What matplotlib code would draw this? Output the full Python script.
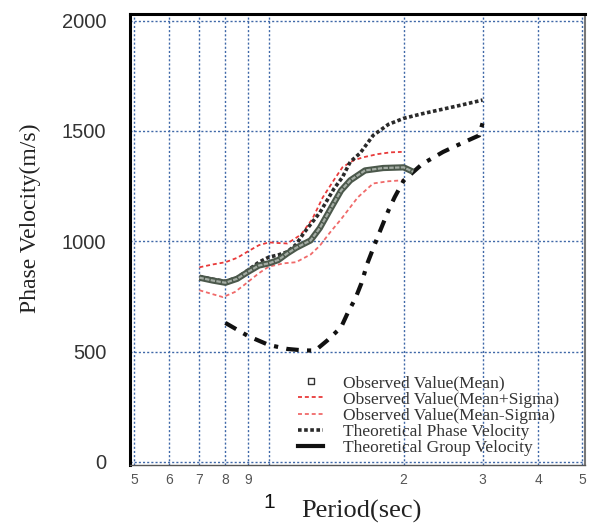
import matplotlib
matplotlib.use("Agg")
import matplotlib.pyplot as plt
from matplotlib.lines import Line2D
from matplotlib.ticker import FixedLocator

# Observed mean phase velocity
mean_period = [0.70, 0.75, 0.80, 0.85, 0.90, 0.95, 1.00, 1.05, 1.10, 1.15, 1.24,
               1.30, 1.38, 1.45, 1.52, 1.64, 1.80, 2.00, 2.10]
mean_vel = [835, 822, 812, 830, 862, 890, 900, 915, 945, 970, 1004,
            1060, 1154, 1230, 1276, 1321, 1332, 1335, 1315]

# Mean + sigma
plus_period = [0.70, 0.75, 0.80, 0.85, 0.90, 0.95, 1.00, 1.05, 1.10, 1.18, 1.25,
               1.32, 1.40, 1.46, 1.54, 1.62, 1.75, 1.87, 1.98]
plus_vel = [882, 895, 905, 925, 955, 982, 995, 992, 990, 1030, 1100,
            1199, 1280, 1335, 1365, 1380, 1395, 1403, 1405]

# Mean - sigma
minus_period = [0.70, 0.75, 0.79, 0.84, 0.88, 0.95, 1.00, 1.08, 1.15, 1.24, 1.30,
                1.37, 1.45, 1.58, 1.71, 1.85, 1.98]
minus_vel = [778, 760, 747, 770, 801, 855, 885, 900, 905, 940, 980,
             1040, 1100, 1199, 1262, 1272, 1276]

# Theoretical phase velocity
phase_period = [0.70, 0.75, 0.80, 0.85, 0.90, 0.95, 1.00, 1.05, 1.10, 1.15, 1.20,
                1.30, 1.40, 1.46, 1.52, 1.60, 1.71, 1.85, 2.00, 2.20, 2.40, 2.70, 3.00]
phase_vel = [840, 828, 818, 835, 870, 905, 928, 938, 952, 985, 1040,
             1130, 1240, 1290, 1360, 1400, 1480, 1530, 1557, 1578, 1595, 1618, 1640]

# Theoretical group velocity
group_period = [0.80, 0.90, 1.00, 1.10, 1.20, 1.27, 1.35, 1.45, 1.50, 1.56, 1.61,
                1.66, 1.75, 1.85, 1.91, 2.00, 2.20, 2.45, 2.70, 2.95, 3.00]
group_vel = [630, 570, 530, 512, 505, 505, 550, 610, 675, 740, 810,
             900, 1020, 1140, 1200, 1275, 1350, 1405, 1445, 1480, 1535]

y_ticks = [0, 500, 1000, 1500, 2000]
minor_x = [0.5, 0.6, 0.7, 0.8, 0.9, 2, 3, 4, 5]
minor_labels = ["5", "6", "7", "8", "9", "2", "3", "4", "5"]

serif = ["Liberation Serif", "DejaVu Serif"]
sans = ["Liberation Sans", "DejaVu Sans"]

fig = plt.figure(figsize=(5.89, 5.29), dpi=100)
ax = fig.add_axes([130 / 589, 1 - 465 / 529, 455 / 589, 451 / 529])

grid_color = "#3f68a8"
for xv in minor_x + [1]:
    ax.axvline(xv, color=grid_color, lw=1.0, ls=(0, (1.5, 1.5)), zorder=1)
for yv in y_ticks:
    ax.axhline(yv, color=grid_color, lw=1.0, ls=(0, (1.5, 1.5)), zorder=1)

ax.plot(plus_period, plus_vel, color="#e83a3a", lw=1.3, ls=(0, (2.2, 1.6)), zorder=3)
ax.plot(minus_period, minus_vel, color="#f06a6a", lw=1.3, ls=(0, (2.2, 1.6)), zorder=3)
ax.plot(phase_period, phase_vel, color="#2a2a2a", lw=2.6, ls=(0, (1, 0.7)), zorder=4)
ax.plot(mean_period, mean_vel, color="#4b584b", lw=4.5, solid_capstyle="butt", zorder=5)
ax.plot(mean_period, mean_vel, color="#a4aca4", lw=1.6, ls=(0, (2, 0.6)), zorder=6)
ax.plot(group_period, group_vel, color="#111111", lw=3, ls=(0, (3, 2, 1, 2)), zorder=4)

ax.set_xscale("log")
ax.set_xlim(0.49, 5.08)
ax.set_ylim(-14, 2030)

ax.xaxis.set_major_locator(FixedLocator([1]))
ax.set_xticklabels(["1"])
ax.set_xticks(minor_x, minor_labels, minor=True)
ax.tick_params(axis="x", which="major", length=0, pad=20, labelsize=15, labelcolor="#111111")
ax.tick_params(axis="x", which="minor", length=0, pad=6, labelsize=10, labelcolor="#555555")
for lab in ax.get_xticklabels(minor=True) + ax.get_xticklabels():
    lab.set_family(sans)

ax.set_yticks(y_ticks)
ax.tick_params(axis="y", length=0, pad=17, labelsize=14.5, labelcolor="#333333")
for lab in ax.get_yticklabels():
    lab.set_family(sans)

ax.set_xlabel("Period(sec)", family=serif, fontsize=19, color="#222222")
ax.xaxis.set_label_coords(0.508, -0.078)
ax.set_ylabel("Phase Velocity(m/s)", family=serif, fontsize=17, color="#222222")
ax.yaxis.set_label_coords(-0.196, 0.548)

ax.spines["left"].set_linewidth(2.2)
ax.spines["top"].set_linewidth(2.2)
ax.spines["right"].set_linewidth(1.5)
ax.spines["right"].set_color("#777777")
ax.spines["bottom"].set_linewidth(1.0)
ax.spines["bottom"].set_color("#555555")

handles = [
    Line2D([], [], ls="none", marker="s", ms=5, mfc="white", mec="#333333", mew=1),
    Line2D([], [], color="#e83a3a", lw=1.3, ls=(0, (2.2, 1.6))),
    Line2D([], [], color="#f06a6a", lw=1.3, ls=(0, (2.2, 1.6))),
    Line2D([], [], color="#2a2a2a", lw=2.6, ls=(0, (1, 0.7))),
    Line2D([], [], color="#111111", lw=3, ls="-"),
]
labels = [
    "Observed Value(Mean)",
    "Observed Value(Mean+Sigma)",
    "Observed Value(Mean-Sigma)",
    "Theoretical Phase Velocity",
    "Theoretical Group Velocity",
]
leg = ax.legend(handles, labels, loc="lower left", bbox_to_anchor=(0.37, 0.02),
                frameon=False, handlelength=1.4, handletextpad=1.2,
                labelspacing=0.0, borderpad=0, borderaxespad=0,
                prop={"family": serif, "size": 12.5})
for t in leg.get_texts():
    t.set_color("#333333")

fig.savefig("out.png", dpi=100)
